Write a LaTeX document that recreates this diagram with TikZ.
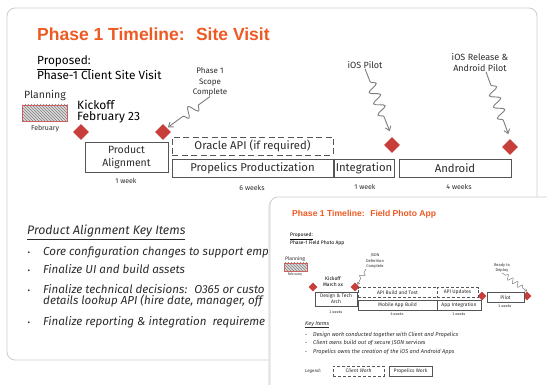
\documentclass[tikz,border=0pt]{standalone}
\usepackage{fontspec}
\setmainfont{Fira Sans}
\newfontfamily\headfont{Liberation Sans}
\usetikzlibrary{shapes.geometric,arrows.meta,decorations.pathmorphing,patterns}
\definecolor{titleorange}{RGB}{238,90,35}
\definecolor{milered}{RGB}{200,62,58}
\definecolor{boxgray}{RGB}{85,85,85}
\definecolor{inkgray}{RGB}{45,45,45}
\definecolor{arrowgray}{RGB}{125,125,125}
\definecolor{cardgray}{RGB}{205,205,205}
\definecolor{shadowgray}{RGB}{236,236,236}
\definecolor{hatchred}{RGB}{205,95,95}
\definecolor{hatchfill}{RGB}{218,218,218}
\newcommand\fsz[2]{\fontsize{#1}{#2}\selectfont}

\begin{document}
\begin{tikzpicture}[x=1pt,y=-1pt,
	card/.style={draw=cardgray,line width=.8,fill=white,rounded corners=8},
	title/.style={anchor=west,inner sep=0,text=titleorange,font=\headfont\bfseries\fsz{17.5}{20}},
	hand/.style={inner sep=0,text=inkgray},
	planbox/.style={draw=hatchred,line width=.8,inner sep=0,preaction={fill=hatchfill},pattern=north west lines,pattern color=gray},
	milestone/.style={diamond,fill=milered,inner sep=0,minimum size=16},
	phasebox/.style={draw=boxgray,fill=white,line width=.8,inner sep=0,text=inkgray,font=\fsz{11.3}{13},minimum height=18},
	clientbox/.style={phasebox,dash pattern=on 6pt off 3.5pt},
	weeks/.style={hand,font=\fsz{7}{8}},
	squig/.style={draw=arrowgray,line width=.9,-{Straight Barb[length=4pt,width=6pt]},decorate,
		decoration={snake,amplitude=5,segment length=12,pre length=14,post length=16}},
	item/.style={hand,anchor=base west,font=\itshape\fsz{11.6}{13}},
	smalltitle/.style={title,font=\headfont\bfseries\fsz{8.6}{10}},
	smallbox/.style={phasebox,line width=.5,font=\fsz{5}{6},minimum height=9.5},
	smallclient/.style={smallbox,dash pattern=on 3pt off 2pt},
	smallmile/.style={milestone,minimum size=9},
	smallweeks/.style={hand,font=\fsz{3.6}{4}},
	smallsquig/.style={squig,line width=.5,-{Straight Barb[length=2pt,width=3pt]},
		decoration={snake,amplitude=2.5,segment length=6,pre length=4,post length=5}},
	smallitem/.style={hand,anchor=base west,font=\itshape\fsz{5.6}{6}}]
\useasboundingbox (0,0) rectangle (547,385);
\clip (0,0) rectangle (547,385);
\fill[white] (0,0) rectangle (547,385);
\draw[card] (7,8) rectangle (537,360);
\node[title] (title) at (37,34) {Phase 1 Timeline:~ Site Visit};
\node[hand,anchor=west,align=left,text=black,font=\fsz{11.8}{12.5}] (proposed) at (37,68) {\underline{Proposed:}\\Phase-1 Client Site Visit};
\node[hand,font=\fsz{10.5}{12}] (planning) at (45,96) {Planning};
\node[planbox,minimum width=45,minimum height=16] (plan) at (45,113) {};
\node[weeks] (feb) at (45,129) {February};
\node[hand,anchor=west,align=left,text=black,font=\fsz{12}{11.5}] (kickoff) at (77,111.5) {Kickoff\\February 23};
\node[hand,align=center,font=\fsz{8}{10.5}] (scope) at (210,82) {Phase 1\\Scope\\Complete};
\node[hand,font=\fsz{9}{11}] (ios) at (365,65) {iOS Pilot};
\node[hand,align=center,font=\fsz{9}{11}] (release) at (480,62.5) {iOS Release \&\\Android Pilot};
\node[milestone] (d1) at (81,132) {};
\node[milestone] (d2) at (163,132) {};
\node[milestone] (d3) at (392,145) {};
\node[milestone] (d4) at (510,147) {};
\node[phasebox,minimum width=83,minimum height=30,align=center,font=\fsz{10.5}{13}] (align) at (126.5,157) {Product\\Alignment};
\node[clientbox,minimum width=161] (oracle) at (252.5,146) {Oracle API (if required)};
\node[phasebox,minimum width=161] (product) at (252.5,168.5) {Propelics Productization};
\node[phasebox,minimum width=60] (integ) at (364,168.5) {Integration};
\node[phasebox,minimum width=112] (android) at (455,168.5) {Android};
\node[weeks] (w1) at (126,181) {1 week};
\node[weeks] (w2) at (252,188) {6 weeks};
\node[weeks] (w3) at (365,187) {1 week};
\node[weeks] (w4) at (459,187) {4 weeks};
\draw[squig,shorten >=1] (scope.south) -- (d2.north east);
\draw[squig,shorten >=6] (ios.south) -- (d3.north);
\draw[squig,shorten >=5] ([xshift=6]release.south) -- (d4.north);
\node[hand,anchor=base west,font=\itshape\fsz{12.3}{13}] (keyhead) at (27,235) {\underline{Product Alignment Key Items}};
\foreach \y/\t [count=\i] in {255/Core configuration changes to support emp,274/Finalize UI and build assets,293.5/{Finalize technical decisions:~ O365 or custo},325.5/{Finalize reporting \& integration~ requireme}}
{
	\node[hand,anchor=base,font=\fsz{8}{10}] (dot\i) at (29,\y) {•};
	\node[item] (item\i) at (43,\y) {\t};
}
\node[item] (item3b) at (43,304.5) {details lookup API (hire date, manager, off};
\fill[shadowgray,rounded corners=8] (268,199) rectangle (560,400);
\draw[card] (270,197) rectangle (560,400);
\node[smalltitle] (title2) at (292,214) {Phase 1 Timeline:~ Field Photo App};
\node[hand,anchor=west,align=left,text=black,font=\fsz{5}{6}] (proposed2) at (290,239) {\underline{Proposed:}\\Phase-1 Field Photo App};
\node[hand,font=\fsz{5}{6}] (planning2) at (295,259) {Planning};
\node[planbox,line width=.5,minimum width=23,minimum height=8] (plan2) at (295.5,267) {};
\node[smallweeks] (feb2) at (295,275) {February};
\node[hand,align=center,text=black,font=\fsz{5}{6}] (kickoff2) at (333,282) {Kickoff\\March xx};
\node[hand,align=center,font=\fsz{4}{5.5}] (json) at (375,261.5) {JSON\\Definition\\Complete};
\node[hand,align=center,font=\fsz{4}{5.5}] (ready) at (502,268) {Ready to\\Deploy};
\node[smallmile] (e1) at (313,287) {};
\node[smallmile] (e2) at (355,287) {};
\node[smallmile] (e3) at (482,296) {};
\node[smallmile] (e4) at (527,296) {};
\node[smallbox,minimum width=42,minimum height=14,align=center] (design) at (336,299) {Design \& Tech\\Arch};
\node[smallclient,minimum width=79] (apibuild) at (397.5,292.5) {API Build and Test};
\node[smallclient,minimum width=41] (apiupd) at (457.5,292.5) {API Updates};
\node[smallbox,minimum width=79] (mobile) at (397.5,305.5) {Mobile App Build};
\node[smallbox,minimum width=44] (appint) at (459,305.5) {App Integration};
\node[smallbox,minimum width=37] (pilot) at (505.5,297.5) {Pilot};
\node[smallweeks] (v1) at (336,312) {2 weeks};
\node[smallweeks] (v2) at (397,314) {6 weeks};
\node[smallweeks] (v3) at (459,314) {2 weeks};
\node[smallweeks] (v4) at (505,306.5) {2 weeks};
\draw[smallsquig] (json.south west) -- (e2.north east);
\draw[smallsquig] (ready.south) -- (e4.north);
\node[smallitem] (keyhead2) at (305,325) {\underline{Key Items}};
\foreach \y/\t [count=\i] in {336/Design work conducted together with Client and Propelics,344.5/Client owns build out of secure JSON services,353/Propelics owns the creation of the iOS and Android Apps}
{
	\node[hand,anchor=base,font=\fsz{4.5}{5}] (sdot\i) at (306,\y) {•};
	\node[smallitem] (sitem\i) at (313,\y) {\t};
}
\node[hand,anchor=west,font=\itshape\fsz{4.5}{5}] (legend) at (305,371) {Legend:};
\node[smallclient,minimum width=51,minimum height=10,font=\itshape\fsz{5}{6}] (clientw) at (358.5,371) {Client Work};
\node[smallbox,minimum width=43,minimum height=10] (propw) at (410.5,371) {Propelics Work};
\end{tikzpicture}
\end{document}
